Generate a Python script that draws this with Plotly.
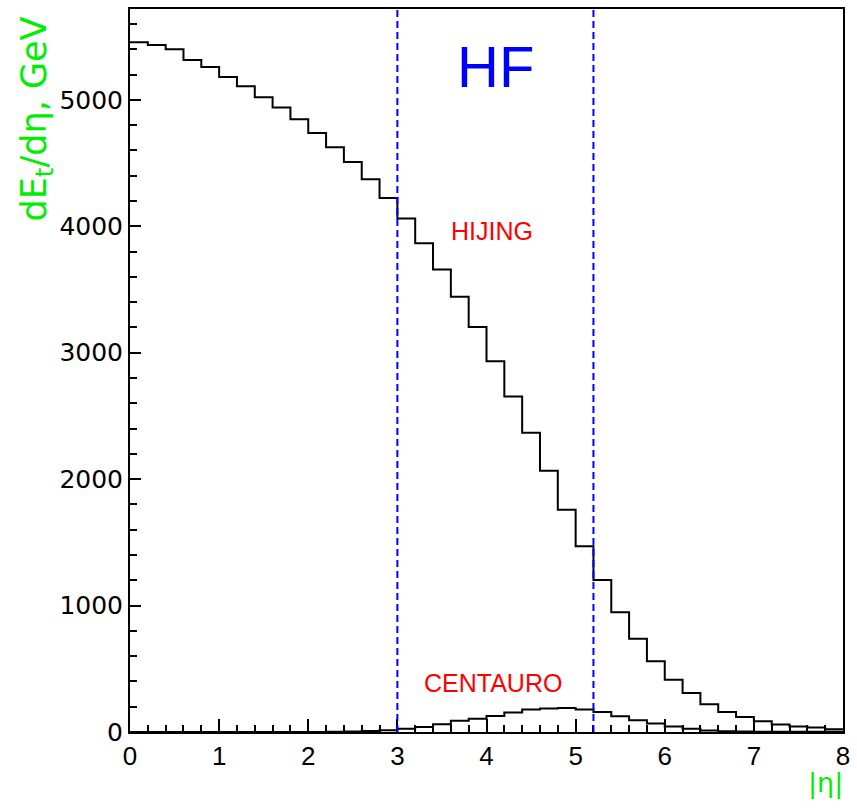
import numpy as np
import plotly.graph_objects as go

# |eta| bins (width 0.2 from 0 to 8)
bin_edges = [round(0.2 * i, 1) for i in range(41)]

hijing = [5455, 5434, 5400, 5315, 5260, 5181, 5108, 5021, 4939, 4847,
          4737, 4624, 4508, 4372, 4224, 4061, 3866, 3658, 3442, 3203,
          2932, 2653, 2366, 2066, 1758, 1469, 1203, 948, 738, 559,
          414, 309, 219, 159, 119, 85, 59, 43, 35, 22]

centauro = [0, 0, 0, 0, 0, 0, 0, 0, 0, 0,
            0, 2, 4, 7, 13, 25, 40, 62, 88, 104,
            127, 154, 177, 185, 190, 177, 159, 125, 93, 67,
            43, 25, 12, 5, 3, 2, 1, 1, 1, 1]

hf_bounds = [3.0, 5.2]

labels = [("HF", 4.10, 5263, 58, "#0000ff"),
          ("HIJING", 4.06, 3960, 25, "#ff0000"),
          ("CENTAURO", 4.07, 385, 25, "#ff0000")]

def step(vals):
    xs = list(bin_edges)
    ys = list(vals) + [vals[-1]]
    return xs, ys

fig = go.Figure()
for vals in (hijing, centauro):
    xs, ys = step(vals)
    fig.add_trace(go.Scatter(x=xs, y=ys, mode="lines", line_shape="hv",
                             line=dict(color="black", width=2),
                             showlegend=False, hoverinfo="skip"))

for xb in hf_bounds:
    fig.add_shape(type="line", x0=xb, x1=xb, y0=0, y1=1, xref="x", yref="paper",
                  line=dict(color="#0000ff", width=2, dash="7px,4px"))

for txt, x, y, sz, col in labels:
    fig.add_annotation(x=x, y=y, xref="x", yref="y", text=txt, showarrow=False,
                       font=dict(family="Liberation Sans, Arial", size=sz, color=col),
                       xanchor="center", yanchor="middle")

fig.add_annotation(text="dE<sub>t</sub>/dη, GeV", xref="paper", yref="paper",
                   x=-0.131, y=0.848, textangle=-90, showarrow=False,
                   xanchor="center", yanchor="middle",
                   font=dict(family="DejaVu Sans", size=35, color="#00ee00"))
fig.add_annotation(text="|η|", xref="paper", yref="paper",
                   x=0.976, y=-0.071, showarrow=False,
                   xanchor="center", yanchor="middle",
                   font=dict(family="DejaVu Sans", size=27, color="#00ee00"))

fig.update_layout(
    width=857, height=810,
    margin=dict(l=130, r=8, t=7, b=78),
    paper_bgcolor="white", plot_bgcolor="white",
    xaxis=dict(range=[0, 8], tickmode="linear", tick0=0, dtick=1,
               ticks="inside", ticklen=13, tickwidth=2, tickcolor="black",
               minor=dict(ticks="inside", ticklen=7, tickwidth=2, dtick=0.2, tickcolor="black"),
               showline=True, linecolor="black", linewidth=2, mirror=True,
               showgrid=False, zeroline=False,
               tickfont=dict(family="Liberation Sans, Arial", size=26, color="black")),
    yaxis=dict(range=[0, 5718], tickmode="linear", tick0=0, dtick=1000,
               ticks="inside", ticklen=11, tickwidth=2, tickcolor="black",
               minor=dict(ticks="inside", ticklen=7, tickwidth=2, dtick=200, tickcolor="black"),
               showline=True, linecolor="black", linewidth=2, mirror=True,
               showgrid=False, zeroline=False,
               tickfont=dict(family="DejaVu Sans", size=25, color="black")),
)

fig.write_html("out.html")
